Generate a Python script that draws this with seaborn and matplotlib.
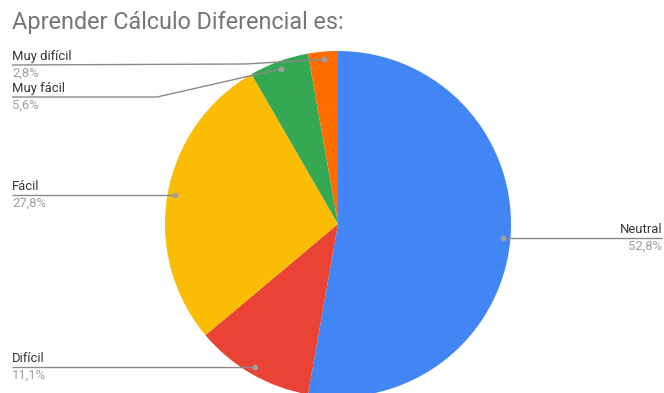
import numpy as np
import matplotlib
matplotlib.use("Agg")
import matplotlib.pyplot as plt
import seaborn as sns

# Survey answers (number of students per option)
categories = ["Neutral", "Difícil", "Fácil", "Muy fácil", "Muy difícil"]
counts = [19, 4, 10, 2, 1]
colors = ["#4285F4", "#EA4335", "#FBBC04", "#34A853", "#FF6D01"]
title = "Aprender Cálculo Diferencial es:"

sns.set_theme(style="white")
plt.rcParams["font.family"] = ["Roboto", "DejaVu Sans"]

W, H, DPI = 664, 393, 100
fig = plt.figure(figsize=(W / DPI, H / DPI), dpi=DPI)
ax = fig.add_axes([0, 0, 1, 1])

# pie geometry in pixels
CX, CY, R = 338.0, 224.0, 173.0


def px(x, y):
    """pixel (from top-left) -> data coordinates (pie radius = 1)"""
    return (x - CX) / R, (CY - y) / R


wedges, _ = ax.pie(counts, colors=colors, startangle=90, counterclock=False,
                   radius=1.0, center=(0, 0),
                   wedgeprops=dict(linewidth=0, antialiased=True))

# pie() resets the limits, so set them afterwards
ax.set_xlim(px(0, 0)[0], px(W, 0)[0])
ax.set_ylim(px(0, H)[1], px(0, 0)[1])
ax.set_aspect("equal", adjustable="box")
ax.axis("off")

total = sum(counts)
pct = [f"{100 * c / total:.1f}".replace(".", ",") + "%" for c in counts]

# anchor dot inside each slice, near the rim
dots = []
for w in wedges:
    mid = np.deg2rad((w.theta1 + w.theta2) / 2)
    dots.append((0.955 * np.cos(mid), 0.955 * np.sin(mid)))

line_c = "#8a8a8a"
name_c = "#333333"
pct_c = "#9e9e9e"
fs = 9.4


def draw_label(i, xtext, ytext_px, path_px, ha="left"):
    d = dots[i]
    pts = [px(*p) for p in path_px] + [d]
    xs, ys = zip(*pts)
    ax.plot(xs, ys, color=line_c, lw=1.0, solid_capstyle="butt", zorder=3)
    ax.plot(*d, "o", ms=4.2, color="#a0a0a0", mec="none", zorder=4)
    tx, ty = px(xtext, ytext_px)
    ax.text(tx, px(0, ytext_px - 2)[1], categories[i], ha=ha, va="bottom",
            color=name_c, fontsize=fs)
    ax.text(tx, px(0, ytext_px + 1.5)[1], pct[i], ha=ha, va="top",
            color=pct_c, fontsize=fs)


def dot_px(i):
    x, y = dots[i]
    return CX + x * R, CY - y * R


# Neutral (right side)
ny = dot_px(0)[1]
draw_label(0, 662, ny, [(662, ny)], ha="right")
# Difícil
dy = dot_px(1)[1]
draw_label(1, 12, dy, [(12, dy)])
# Fácil
fy = dot_px(2)[1]
draw_label(2, 12, fy, [(12, fy)])
# Muy fácil
draw_label(3, 12, 97, [(12, 97), (157, 97)])
# Muy difícil
draw_label(4, 12, 65, [(12, 65), (245, 64)])

fig.text(12 / W, 1 - 22 / H, title, ha="left", va="center",
         fontsize=16.8, color="#757575")

fig.savefig("out.png", dpi=DPI, facecolor="white")
